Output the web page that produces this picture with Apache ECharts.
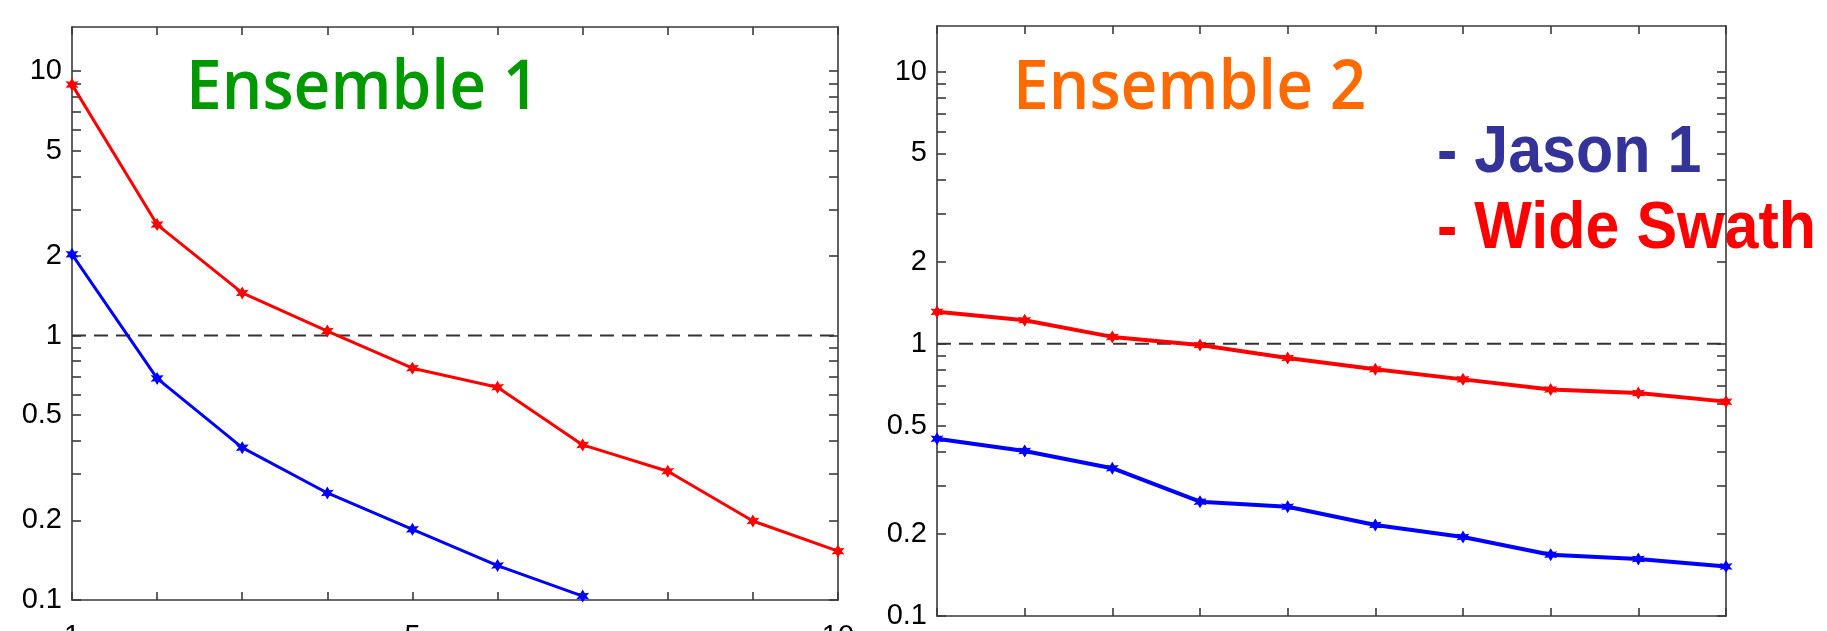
<!DOCTYPE html>
<html>
<head>
<meta charset="utf-8">
<script src="https://cdn.jsdelivr.net/npm/echarts@6/dist/echarts.min.js"></script>
<style>
html,body{margin:0;padding:0;background:#fff;}
#chart{width:1827px;height:631px;}
</style>
</head>
<body>
<div id="chart"></div>
<script>
// ---- data ----
const xValues = [1, 2, 3, 4, 5, 6, 7, 8, 9, 10];
const ens1WideSwath = [8.9, 2.63, 1.45, 1.04, 0.753, 0.638, 0.386, 0.307, 0.199, 0.153];
const ens1Jason1 = [2.03, 0.689, 0.377, 0.254, 0.185, 0.135, 0.1035];
const ens2WideSwath = [1.31, 1.22, 1.06, 0.99, 0.887, 0.806, 0.74, 0.679, 0.659, 0.613];
const ens2Jason1 = [0.448, 0.404, 0.349, 0.263, 0.252, 0.216, 0.195, 0.168, 0.162, 0.152];
const referenceLevel = 1;
const yTickValues = [0.1,0.2,0.3,0.4,0.5,0.6,0.7,0.8,0.9,1,2,3,4,5,6,7,8,9,10];
const yLabelValues = [0.1, 0.2, 0.5, 1, 2, 5, 10];
const xLabelValues = [1, 5, 10];
const yMin = 0.1, yMax = 14.7;
const panelTitles = ['Ensemble 1', 'Ensemble 2'];
const legendLabels = ['- Jason 1', '- Wide Swath'];

const frameColor = '#3a3a3a';
const pairs = (arr) => arr.map((v, i) => [xValues[i], v]);
const star = 'path://M0,-6 L1.8,-2.6 L5.2,-3 L3,0 L5.2,3 L1.8,2.6 L0,6 L-1.8,2.6 L-5.2,3 L-3,0 L-5.2,-3 L-1.8,-2.6 Z';

function xAx(grid, pos, labels) {
  return {
    type: 'value', gridIndex: grid, position: pos, min: 1, max: 10, interval: 1,
    axisLine: {show: true, onZero: false, lineStyle: {color: frameColor, width: 1.6}},
    axisTick: {show: true, inside: true, length: 8, lineStyle: {color: frameColor, width: 1.6}},
    axisLabel: labels ? {show: true, customValues: xLabelValues, margin: 22, fontSize: 29,
      fontFamily: 'Liberation Sans, Arial, sans-serif', color: '#000', hideOverlap: false} : {show: false},
    splitLine: {show: false}
  };
}
function yAx(grid, pos, labels) {
  return {
    type: 'log', logBase: 10, gridIndex: grid, position: pos, min: yMin, max: yMax,
    axisLine: {show: true, onZero: false, lineStyle: {color: frameColor, width: 1.6}},
    axisTick: {show: true, inside: true, length: 9, customValues: yTickValues,
      lineStyle: {color: frameColor, width: 1.6}},
    axisLabel: labels ? {show: true, customValues: yLabelValues, margin: 10, fontSize: 29,
      fontFamily: 'Liberation Sans, Arial, sans-serif', color: '#000',
      formatter: (v) => String(+v.toPrecision(3))} : {show: false},
    splitLine: {show: false}
  };
}
function lineSeries(x, y, data, color, width) {
  return {
    type: 'line', xAxisIndex: x, yAxisIndex: y, data: pairs(data),
    symbol: star, symbolSize: 13, showSymbol: true,
    lineStyle: {color: color, width: width}, itemStyle: {color: color},
    clip: true, animation: false, z: 3
  };
}
function refLine(x, y) {
  return {
    type: 'line', xAxisIndex: x, yAxisIndex: y,
    data: [[xValues[0], referenceLevel], [xValues[xValues.length - 1], referenceLevel]],
    symbol: 'none', lineStyle: {color: '#333', width: 2, type: [14, 8]},
    animation: false, z: 2
  };
}

const titleFont = '600 64px "Open Sans", "Noto Sans", sans-serif';
const legendFont = 'bold 61px "Liberation Sans", Arial, sans-serif';

const chart = echarts.init(document.getElementById('chart'), null, {renderer: 'canvas'});
chart.setOption({
  backgroundColor: '#fff',
  animation: false,
  grid: [
    {left: 72, top: 27, width: 766, height: 573, outerBoundsMode: 'none', containLabel: false},
    {left: 937, top: 26, width: 789, height: 590, outerBoundsMode: 'none', containLabel: false}
  ],
  xAxis: [xAx(0, 'bottom', true), xAx(0, 'top', false), xAx(1, 'bottom', false), xAx(1, 'top', false)],
  yAxis: [yAx(0, 'left', true), yAx(0, 'right', false), yAx(1, 'left', true), yAx(1, 'right', false)],
  series: [
    refLine(0, 0),
    lineSeries(0, 0, ens1WideSwath, '#ff0000', 3),
    lineSeries(0, 0, ens1Jason1, '#0000ff', 3),
    refLine(2, 2),
    lineSeries(2, 2, ens2WideSwath, '#ff0000', 4),
    lineSeries(2, 2, ens2Jason1, '#0000ff', 4)
  ],
  graphic: [
    {type: 'text', x: 186, y: 124, scaleY: 1.07, style: {text: panelTitles[0], fill: '#009900',
      font: titleFont, textVerticalAlign: 'bottom'}},
    {type: 'text', x: 1013, y: 124, scaleY: 1.07, style: {text: panelTitles[1], fill: '#ff6a00',
      font: titleFont, textVerticalAlign: 'bottom'}},
    {type: 'text', x: 1437, y: 187, scaleY: 1.1, style: {text: legendLabels[0], fill: '#333399',
      font: legendFont, textVerticalAlign: 'bottom'}},
    {type: 'text', x: 1437, y: 263, scaleY: 1.1, style: {text: legendLabels[1], fill: '#ff0000',
      font: legendFont, textVerticalAlign: 'bottom'}}
  ]
});
</script>
</body>
</html>
